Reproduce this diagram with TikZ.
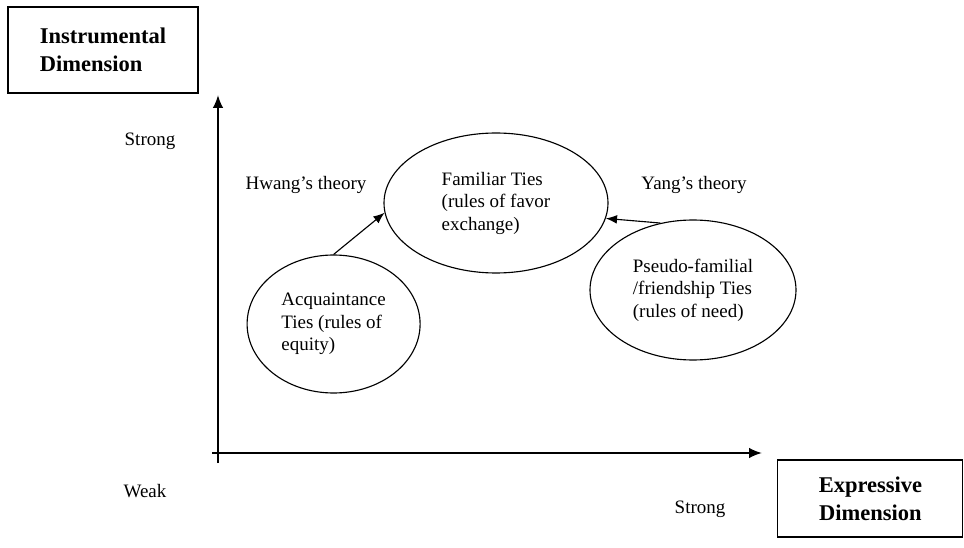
\documentclass[tikz,border=0pt]{standalone}
\usepackage{fontspec}
\setmainfont{Liberation Serif}
\usetikzlibrary{arrows.meta,shapes.geometric}

\tikzset{
  lbl/.style={font=\fontsize{13.5}{16}\selectfont},
  dimbox/.style={draw, rectangle, line width=0.8pt, font=\fontsize{16}{20}\selectfont\bfseries},
  tie/.style={draw, ellipse, line width=0.8pt, inner sep=0pt, align=left, font=\fontsize{13.5}{16}\selectfont},
  axis/.style={line width=1.3pt, -{Latex[length=3.2mm,width=2.6mm]}},
  rule/.style={line width=0.8pt, -{Latex[length=2.8mm,width=2.2mm]}},
}

\begin{document}
\begin{tikzpicture}
  \useasboundingbox (0,0) rectangle (24.1,13.675);

  % Dimension boxes
  \node[dimbox, minimum width=4.75cm, minimum height=2.15cm, align=left] (instr) at (2.575,12.425) {Instrumental\\Dimension};
  \node[dimbox, minimum width=4.625cm, minimum height=1.925cm, align=center] (expr) at (21.76,1.2125) {Expressive\\Dimension};

  % Coordinate axes
  \coordinate (ybot) at (5.45,2.1);
  \coordinate (ytop) at (5.45,11.3);
  \coordinate (xleft) at (5.3,2.35);
  \coordinate (xright) at (19.05,2.35);
  \draw[axis] (ybot) -- (ytop);
  \draw[axis] (xleft) -- (xright);

  % Axis labels
  \node[lbl] (ystrong) at (3.75,10.15) {Strong};
  \node[lbl] (weak) at (3.625,1.4) {Weak};
  \node[lbl] (xstrong) at (17.5,0.95) {Strong};

  % Theories
  \node[lbl] (hwang) at (7.65,9.05) {Hwang's theory};
  \node[lbl] (yang) at (17.35,9.05) {Yang's theory};

  % Ties (ellipses)
  \node[tie, minimum width=5.6cm, minimum height=3.5cm] (fam) at (12.4,8.6) {Familiar Ties\\(rules of favor\\exchange)};
  \node[tie, minimum width=4.325cm, minimum height=3.45cm] (acq) at (8.34,5.575) {Acquaintance\\Ties (rules of\\equity)};
  \node[tie, minimum width=5.15cm, minimum height=3.5cm] (pseudo) at (17.325,6.425) {Pseudo-familial\\/friendship Ties\\(rules of need)};

  % Arrows to familiar ties
  \draw[rule] (acq.north) -- (fam.185);
  \draw[rule] (pseudo.116) -- (fam.-8);
\end{tikzpicture}
\end{document}
